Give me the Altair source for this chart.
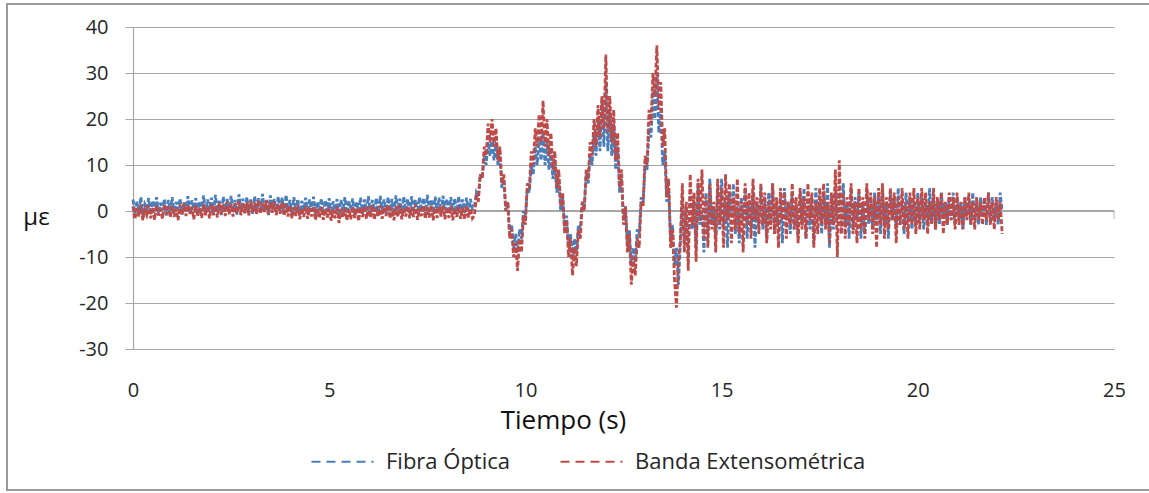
import altair as alt
import pandas as pd

# ---- data (one sample every 0.05 s) ----
fibra_quiet = [
    2.5,-0.5,2,0,3,-1,1.5,0.5,2.8,-0.8,2.2,0,3,-0.5,1.8,0.2,2.6,-1,2.4,0,
    3,-0.6,2,0.4,2.7,-0.8,1.9,0,3.2,-0.4,2.3,0.5,2.8,-1,2.1,0,3.4,-0.5,2.5,0.3,
    2.9,-0.7,3.5,0,2.2,-0.9,3.1,0.4,2.6,-0.3,3.3,0,2.4,-0.8,3.6,0.2,2.7,-0.5,3,0,
    2.5,-0.6,3.2,0.3,2.8,-0.4,3.7,0,2.3,-0.9,3.4,0.5,2.6,-0.2,3.1,0,2.9,-0.7,3.5,0.2,
    2.4,-0.8,3,0,2.6,-1,2.2,0.3,2.9,-0.5,2.5,0,3.1,-0.9,2,0.2,2.7,-0.6,2.3,0,
    2.8,-0.7,2.1,0.2,2.6,-1,2.4,0,3,-0.5,2.2,0.3,2.7,-0.8,2,0,2.9,-0.6,2.5,0.1,
    3.2,-0.5,2.4,0,2.8,-0.9,3.3,0.3,2.5,-0.4,3,0,2.6,-0.8,3.4,0.2,2.7,-0.6,3.1,0,
    2.6,-0.7,3.2,0.4,2.4,-0.5,3,0,2.8,-0.9,3.5,0.2,2.5,-0.4,3.1,0,2.9,-0.8,3.3,0.3,
    2.6,-0.5,3,0,2.7,-0.8,3.2,0.2,2.5,-0.4,2.9,0,2.6,0.5]
fibra_osc = [
    1,4,3,8,7,12,
    10,15,12,16,11,15,10,12,5,7,0,2,-5,-3,-8,-5,-9,-4,-6,0,
    -1,5,4,10,8,14,10,16,11,17,10,15,9,13,7,10,4,7,0,3,
    -4,-1,-8,-5,-10,-6,-9,-3,-4,2,1,8,6,12,10,17,12,20,13,24,
    14,28,13,22,12,19,9,14,4,7,-2,1,-7,-4,-12,-8,-11,-4,-5,3,
    2,10,9,18,16,26,20,30,17,22,10,13,2,5,-6,-3,-12,-8,-16,-7]
fibra_post = [
    3,-7,1,-10,5,-4,2,-8,6,-3,0,-9,4,-5,7,-2,1,-6,5,-4,
    7,-3,2,-8,4,-1,6,-5,1,-7,3,-2,5,-6,2,-4,4,-8,1,-3,
    5,-4,2,-6,4,-2,6,-5,1,-3,3,-7,5,-2,2,-5,4,-4,1,-6,
    4,-3,5,-6,2,-4,3,-7,5,-1,2,-5,4,-3,6,-8,3,-4,5,-2,
    4,-5,6,-3,2,-6,5,-4,3,-2,4,-6,2,-5,5,-3,3,-4,4,-2,
    3,-5,5,-3,2,-6,4,-2,3,-4,5,-3,2,-5,4,-2,3,-4,2,-3,
    4,-2,3,-4,2,-3,5,-2,3,-4,2,-3,4,-1,2,-3,3,-2,4,-3,
    3,-2,2,-4,3,-1,2,-3,4,-2,2,-3,3,-1,2,-3,4,-2,3,-2,
    2,-3,4,0]

banda_quiet = [
    1,-1.8,0.6,-1.2,1.4,-2,0.3,-0.9,1.2,-1.6,0.8,-1.9,1.3,-1,0.4,-1.7,1.5,-0.7,0.9,-1.4,
    1.1,-1.3,0.5,-2,1.4,-0.8,1.7,-1.1,1.3,-0.6,0.9,-1.8,1.2,-1,0.6,-1.5,1.5,-0.9,1,-1.6,
    1.6,-0.9,1.2,-1.4,1.8,-0.6,1.4,-1.1,2,-0.7,1.5,-1.2,1.7,-0.5,2.1,-0.9,1.6,-0.4,1.9,-1,
    2.2,-0.3,1.8,-0.8,2.3,-0.5,1.6,-0.2,2.4,-0.7,1.9,-0.4,2.1,-0.9,1.5,-0.6,2,-1,1.4,-1.2,
    1.2,-1.6,0.8,-1.1,1.3,-1.8,0.6,-1.3,1,-1.7,0.7,-1.2,1.1,-2,0.5,-1.5,0.9,-1.9,0.4,-1.4,
    0.8,-2.1,0.3,-1.6,0.9,-2.6,0.5,-1.4,0.7,-2,0.4,-1.8,1,-1.5,0.6,-2.2,0.8,-1.3,1.1,-1.7,
    0.9,-1.4,1.3,-1.9,0.6,-1.2,1.2,-1.7,0.8,-1.1,1.4,-1.6,0.7,-2,1,-1.3,1.3,-1.8,0.5,-1.2,
    1.1,-1.6,0.8,-1.3,1.4,-1.9,0.6,-1.1,1.2,-1.7,0.9,-1.4,1.3,-2,0.7,-1.5,1,-1.2,1.2,-1.8,
    0.8,-1.5,1.1,-2,0.6,-1.3,1,-1.7,0.7,-1.9,1.2,-1.4,0.5,-1.6]
banda_osc = [
    -1,3,2,8,7,14,
    12,19,15,20,14,18,11,14,6,8,0,2,-6,-4,-10,-7,-13,-6,-9,-1,
    -3,6,5,13,10,18,14,21,15,24,14,20,12,17,9,13,5,9,1,4,
    -5,-2,-10,-6,-14,-8,-12,-4,-6,2,0,9,7,15,12,20,14,23,16,25,
    18,34,17,25,15,22,11,17,5,9,-3,1,-9,-5,-16,-10,-14,-6,-8,2,
    1,12,10,22,19,30,25,36,22,28,14,18,3,7,-8,-4,-15,-21,-11,-6]
banda_post = [
    6,-9,2,-13,8,-3,4,-11,7,-2,9,-6,3,-8,6,-4,2,-9,7,-3,
    5,-8,8,-2,6,-7,3,-4,7,-5,2,-9,6,-3,4,-6,7,-2,3,-5,
    6,-3,4,-7,2,-4,6,-5,3,-8,5,-2,4,-6,2,-3,6,-4,3,-7,
    5,-4,3,-6,6,-2,4,-8,2,-5,5,-3,6,-4,2,-7,4,-3,9,-10,
    11,-5,4,-6,3,-3,6,-5,2,-7,5,-4,3,-6,6,-2,4,-5,3,-8,
    5,-3,6,-6,3,-4,5,-2,4,-7,3,-3,5,-4,2,-6,4,-3,5,-5,
    3,-4,5,-2,4,-5,2,-3,5,-4,3,-2,4,-5,2,-3,4,-2,3,-4,
    4,-3,2,-4,3,-2,4,-3,2,-4,3,-2,2,-3,3,-2,4,-3,2,-4,
    3,-2,2,-5]

fibra = fibra_quiet + fibra_osc + fibra_post
banda = banda_quiet + banda_osc + banda_post
n = len(fibra)
tiempo = [round(i * 0.05, 2) for i in range(n)]

series_names = ["Fibra Óptica", "Banda Extensométrica"]
series_colors = ["#4A7EBB", "#BE4B48"]
x_ticks = [0, 5, 10, 15, 20, 25]
y_ticks = [-30, -20, -10, 0, 10, 20, 30, 40]

df = pd.DataFrame({
    "t": tiempo + tiempo,
    "v": fibra + banda,
    "serie": [series_names[0]] * n + [series_names[1]] * n,
})
ticks_df = pd.DataFrame({"t": x_ticks, "v": [0] * len(x_ticks)})

FONT = "Open Sans"
GRID = "#A6A6A6"
TXT = "#262626"

x_enc = alt.X("t:Q",
              scale=alt.Scale(domain=[0, 25], nice=False, zero=False),
              axis=alt.Axis(values=x_ticks, grid=False, domain=False, ticks=False,
                            labelFlush=False,
                            labelPadding=31, labelFontSize=20, labelColor=TXT,
                            labelFont=FONT,
                            title="Tiempo (s)", titleFontSize=26, titleFont=FONT,
                            titleFontWeight="normal", titleColor="#111",
                            titleX=430, titleY=71, titleAlign="center",
                            titleBaseline="middle"))
y_enc = alt.Y("v:Q",
              scale=alt.Scale(domain=[-30, 40], nice=False, zero=False),
              axis=alt.Axis(values=y_ticks, grid=True, gridColor=GRID, gridWidth=1.2,
                            domainColor=GRID, domainWidth=1.2, tickColor=GRID,
                            tickSize=8, labelPadding=17, labelFontSize=20,
                            labelColor=TXT, labelFont=FONT,
                            labelExpr="toString(datum.value)",
                            title="με", titleAngle=0, titleFontSize=24,
                            titleFont=FONT, titleFontWeight="normal", titleColor="#111",
                            titleX=-97, titleY=190, titleAlign="center",
                            titleBaseline="middle"))

color_enc = alt.Color("serie:N",
                      scale=alt.Scale(domain=series_names, range=series_colors),
                      legend=alt.Legend(title=None, orient="none", direction="horizontal",
                                        legendX=177, legendY=402,
                                        symbolType="stroke", symbolSize=3844,
                                        symbolStrokeWidth=2.2, symbolDash=[9, 6],
                                        labelFontSize=22, labelFont=FONT,
                                        labelColor=TXT, labelOffset=11,
                                        labelLimit=0, columnPadding=45))

base = alt.Chart(df)
blue = base.transform_filter(alt.datum.serie == series_names[0]).mark_line(
    strokeWidth=2.8, strokeDash=[5, 2]).encode(x=x_enc, y=y_enc, color=color_enc)
red = base.transform_filter(alt.datum.serie == series_names[1]).mark_line(
    strokeWidth=2.8, strokeDash=[5, 2]).encode(x=x_enc, y=y_enc, color=color_enc)

zero_line = alt.Chart(ticks_df).mark_rule(color=GRID, strokeWidth=1.2).encode(
    y=alt.Y("v:Q"))
zero_ticks = alt.Chart(ticks_df).mark_tick(orient="vertical", size=8, yOffset=4,
                                           thickness=1.2, color=GRID).encode(
    x=alt.X("t:Q"), y=alt.Y("v:Q"))

border = alt.Chart(ticks_df).mark_rect(fill=None, stroke="#9A9A9A",
                                       strokeWidth=2).encode(
    x=alt.value(-126), x2=alt.value(1025), y=alt.value(-23), y2=alt.value(463))

chart = alt.layer(zero_line, zero_ticks, blue, red, border).properties(
    width=981, height=322,
    autosize=alt.AutoSizeParams(type="none"),
    padding={"left": 133, "top": 27, "right": 35, "bottom": 144},
    background="white",
).configure_view(stroke=None)

chart.save("out.html", embed_options={"renderer": "svg", "actions": False})
